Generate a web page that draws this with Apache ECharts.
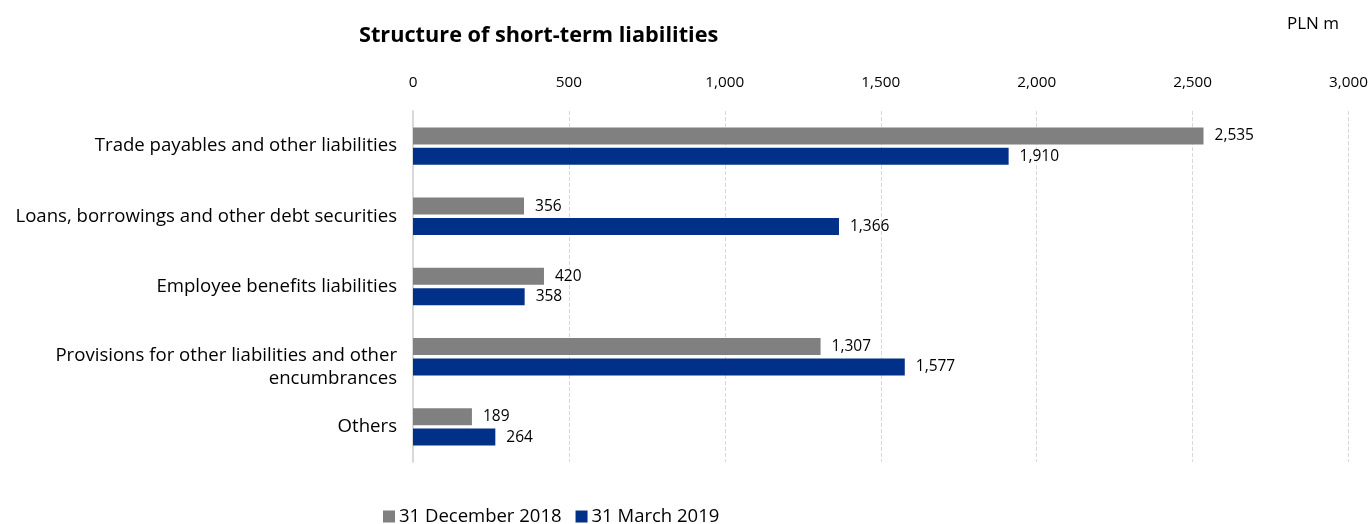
<!DOCTYPE html>
<html><head><meta charset="utf-8">
<script src="https://cdn.jsdelivr.net/npm/echarts@6/dist/echarts.min.js"></script>
<style>html,body{margin:0;padding:0;background:#fff}#c{width:1371px;height:524px}</style>
</head><body><div id="c"></div>
<script>
const categories = ["Trade payables and other liabilities","Loans, borrowings and other debt securities","Employee benefits liabilities","Provisions for other liabilities and other\nencumbrances","Others"];
const seriesNames = ["31 December 2018","31 March 2019"];
const dec2018 = [2535, 356, 420, 1307, 189];
const mar2019 = [1910, 1366, 358, 1577, 264];
const colors = ["#808080", "#003087"];
const font = "'Open Sans', sans-serif";
const fmt = v => v.toLocaleString('en-US');
const chart = echarts.init(document.getElementById('c'));
chart.setOption({
  animation: false,
  textStyle: {fontFamily: font},
  title: [
    {text: "Structure of short-term liabilities", left: 354, top: 20, textStyle: {fontSize: 21.7, fontWeight: 'bold', color: '#000', fontFamily: font}},
    {text: "PLN m", left: 1282, top: 11, textStyle: {fontSize: 17, fontWeight: 'normal', color: '#000', fontFamily: font}}
  ],
  legend: {
    left: 378, top: 502, itemWidth: 12, itemHeight: 12, itemGap: 14, icon: 'rect',
    textStyle: {fontSize: 18.5, color: '#000', fontFamily: font, padding: [0,0,0,-1]},
    data: seriesNames
  },
  grid: {left: 413, right: 21, top: 111, height: 351, containLabel: false},
  xAxis: {
    type: 'value', position: 'top', min: 0, max: 3000, interval: 500,
    axisLine: {show: false}, axisTick: {show: false},
    axisLabel: {formatter: fmt, fontSize: 15.3, color: '#000', margin: 21, fontFamily: font},
    splitLine: {show: true, lineStyle: {type: 'dashed', color: '#d9d9d9', width: 1}}
  },
  yAxis: {
    type: 'category', inverse: true, data: categories,
    axisLine: {show: true, lineStyle: {color: '#d9d9d9', width: 2}}, axisTick: {show: false},
    axisLabel: {
      fontSize: 18.6, color: '#000', margin: 16, align: 'right', lineHeight: 23, fontFamily: font,
      formatter: v => v.indexOf('\n') >= 0 ? '{sp| }\n' + v : v,
      rich: {sp: {fontSize: 1, lineHeight: 22}}
    }
  },
  series: [
    {name: seriesNames[0], type: 'bar', data: dec2018, barWidth: 17, barGap: '20%',
     itemStyle: {color: colors[0]},
     label: {show: true, position: 'right', distance: 11, formatter: p => fmt(p.value), fontSize: 15.5, color: '#000', fontFamily: font}},
    {name: seriesNames[1], type: 'bar', data: mar2019, barWidth: 17, barGap: '20%',
     itemStyle: {color: colors[1]},
     label: {show: true, position: 'right', distance: 11, formatter: p => fmt(p.value), fontSize: 15.5, color: '#000', fontFamily: font}}
  ]
});
</script></body></html>
